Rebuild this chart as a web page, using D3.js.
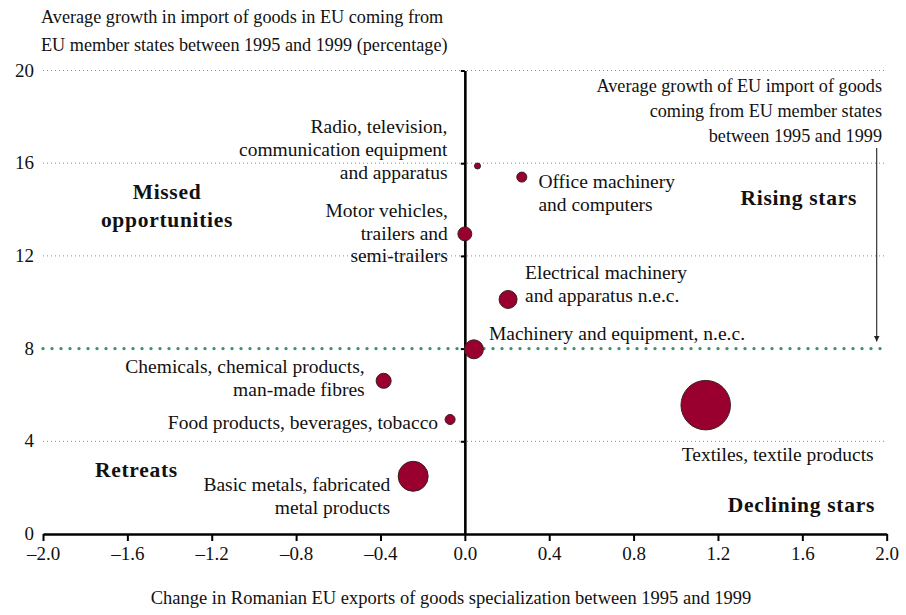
<!DOCTYPE html>
<html>
<head>
<meta charset="utf-8">
<script src="https://cdn.jsdelivr.net/npm/d3@7"></script>
<style>
  html, body { margin: 0; padding: 0; background: #fff; }
  svg { display: block; font-family: "Liberation Serif", "Times New Roman", serif; }
</style>
</head>
<body>
<svg id="chart" width="906" height="615"></svg>
<script>
// ---- Data ----
const sectors = [
  "Radio, television, communication equipment and apparatus",
  "Office machinery and computers",
  "Motor vehicles, trailers and semi-trailers",
  "Electrical machinery and apparatus n.e.c.",
  "Machinery and equipment, n.e.c.",
  "Chemicals, chemical products, man-made fibres",
  "Food products, beverages, tobacco",
  "Basic metals, fabricated metal products",
  "Textiles, textile products"
];
const specializationChange = [0.06, 0.27, 0.0, 0.205, 0.043, -0.385, -0.07, -0.245, 1.142];
const importGrowth = [15.88, 15.4, 12.95, 10.12, 7.97, 6.61, 4.94, 2.49, 5.56];
const bubbleSize = [1, 2.8, 5.4, 9, 10, 6.3, 2.8, 25, 68];
const labelLines = [
  ["Radio, television,", "communication equipment", "and apparatus"],
  ["Office machinery", "and computers"],
  ["Motor vehicles,", "trailers and", "semi-trailers"],
  ["Electrical machinery", "and apparatus n.e.c."],
  ["Machinery and equipment, n.e.c."],
  ["Chemicals, chemical products,", "man-made fibres"],
  ["Food products, beverages, tobacco"],
  ["Basic metals, fabricated", "metal products"],
  ["Textiles, textile products"]
];
const xTicks = [-2.0, -1.6, -1.2, -0.8, -0.4, 0.0, 0.4, 0.8, 1.2, 1.6, 2.0];
const xTickLabels = ["\u20132.0", "\u20131.6", "\u20131.2", "\u20130.8", "\u20130.4", "0.0", "0.4", "0.8", "1.2", "1.6", "2.0"];
const yTicks = [0, 4, 8, 12, 16, 20];
const yTickLabels = ["0", "4", "8", "12", "16", "20"];
const euAverageGrowth = 8;

// ---- Layout ----
const svg = d3.select("#chart");
const x = d3.scaleLinear().domain([-2, 2]).range([43, 886.7]);
const y = d3.scaleLinear().domain([0, 20]).range([534, 70.5]);
const r = d3.scaleSqrt().domain([0, 100]).range([0, 30]);
const FS_TICK = 19;
const FS_LABEL = 19.5;
const FS_ANN = 18.2;
const FS_TITLE = 18.2;
const FS_XTITLE = 18.5;
const FS_QUAD = 21.5;
const LH = 22.8;

// label offsets relative to bubble centre (layout, not data)
const labelLayout = [
  { dx: -30, dy: -33, anchor: "end" },
  { dx: 16.6, dy: 11, anchor: "start" },
  { dx: -17, dy: -17, anchor: "end" },
  { dx: 17, dy: -20, anchor: "start" },
  { dx: 15, dy: -9, anchor: "start" },
  { dx: -19, dy: -8, anchor: "end" },
  { dx: -12, dy: 9.5, anchor: "end" },
  { dx: -23, dy: 14.5, anchor: "end" },
  { dx: -24, dy: 56, anchor: "start" }
];

// grid lines (dotted)
svg.append("g").selectAll("line")
  .data(yTicks.filter(d => d !== 0 && d !== euAverageGrowth))
  .join("line")
  .attr("x1", x(-2)).attr("x2", x(2))
  .attr("y1", d => y(d)).attr("y2", d => y(d))
  .attr("stroke", "#8a8a8a").attr("stroke-width", 1)
  .attr("stroke-dasharray", "1,3");

// EU average line (green dotted)
svg.append("line")
  .attr("x1", x(-2)).attr("x2", x(2))
  .attr("y1", y(euAverageGrowth)).attr("y2", y(euAverageGrowth))
  .attr("stroke", "#3f8f70").attr("stroke-width", 3.4)
  .attr("stroke-linecap", "round")
  .attr("stroke-dasharray", "0,9");

// x axis
const xAxis = d3.axisBottom(x).tickValues(xTicks)
  .tickFormat((d, i) => xTickLabels[i]).tickSizeInner(7).tickSizeOuter(0).tickPadding(6);
const gx = svg.append("g").attr("transform", `translate(0,${y(0)})`).call(xAxis);
gx.select(".domain").attr("stroke", "#000").attr("stroke-width", 2.6);
gx.selectAll(".tick line").attr("stroke", "#000").attr("stroke-width", 2);
gx.selectAll(".tick text").attr("font-size", FS_TICK).attr("font-family", "Liberation Serif").attr("fill", "#111");

// y axis at x = 0
const yAxis = d3.axisLeft(y).tickValues(yTicks.filter(d => d !== 0))
  .tickFormat("").tickSizeInner(4).tickSizeOuter(0);
const gy = svg.append("g").attr("transform", `translate(${x(0)},0)`).call(yAxis);
gy.select(".domain").attr("stroke", "#000").attr("stroke-width", 2.6);
gy.selectAll(".tick line").attr("stroke", "#000").attr("stroke-width", 2);

// y tick labels at left
svg.append("g").selectAll("text")
  .data(yTicks)
  .join("text")
  .attr("x", 34).attr("y", d => y(d)).attr("dy", "0.32em")
  .attr("text-anchor", "end").attr("font-size", FS_TICK).attr("fill", "#111")
  .text((d, i) => yTickLabels[i]);

// axis titles
const yTitle = svg.append("text").attr("font-size", FS_TITLE).attr("fill", "#111");
yTitle.append("tspan").attr("x", 41).attr("y", 23).text("Average growth in import of goods in EU coming from");
yTitle.append("tspan").attr("x", 41).attr("y", 51).text("EU member states between 1995 and 1999 (percentage)");

svg.append("text").attr("x", 451).attr("y", 604)
  .attr("text-anchor", "middle").attr("font-size", FS_XTITLE).attr("fill", "#111")
  .text("Change in Romanian EU exports of goods specialization between 1995 and 1999");

// annotation of EU average line
const ann = svg.append("text").attr("text-anchor", "end").attr("font-size", FS_ANN).attr("fill", "#111");
["Average growth of EU import of goods", "coming from EU member states", "between 1995 and 1999"]
  .forEach((t, i) => ann.append("tspan").attr("x", 882).attr("y", 92 + i * 25).text(t));

svg.append("defs").append("marker")
  .attr("id", "arrow").attr("viewBox", "0 0 10 10")
  .attr("refX", 10).attr("refY", 5)
  .attr("markerWidth", 6).attr("markerHeight", 8)
  .attr("markerUnits", "userSpaceOnUse")
  .attr("orient", "auto")
  .append("path").attr("d", "M0,0 L10,5 L0,10 z").attr("fill", "#222");
svg.append("line")
  .attr("x1", 876.7).attr("x2", 876.7)
  .attr("y1", 148).attr("y2", y(euAverageGrowth) - 7)
  .attr("stroke", "#222").attr("stroke-width", 1.1)
  .attr("marker-end", "url(#arrow)");

// quadrant labels
const quad = [
  { lines: ["Missed", "opportunities"], x: 167, y: 199, anchor: "middle" },
  { lines: ["Rising stars"], x: 857, y: 205, anchor: "end" },
  { lines: ["Retreats"], x: 95, y: 477, anchor: "start" },
  { lines: ["Declining stars"], x: 875, y: 512, anchor: "end" }
];
quad.forEach(q => {
  const t = svg.append("text").attr("text-anchor", q.anchor)
    .attr("font-size", FS_QUAD).attr("font-weight", "bold")
    .attr("letter-spacing", 0.7).attr("fill", "#111");
  q.lines.forEach((l, i) => t.append("tspan").attr("x", q.x).attr("y", q.y + i * 28).text(l));
});

// bubbles
const pts = sectors.map((s, i) => ({
  name: s, xv: specializationChange[i], yv: importGrowth[i], size: bubbleSize[i],
  lines: labelLines[i], lay: labelLayout[i]
}));

svg.append("g").selectAll("circle")
  .data(pts)
  .join("circle")
  .attr("cx", d => x(d.xv)).attr("cy", d => y(d.yv)).attr("r", d => r(d.size))
  .attr("fill", "#990030").attr("stroke", "#3a1f1f").attr("stroke-width", 1);

// point labels
const lg = svg.append("g");
pts.forEach(d => {
  const t = lg.append("text").attr("text-anchor", d.lay.anchor)
    .attr("font-size", FS_LABEL).attr("fill", "#111");
  d.lines.forEach((l, i) => t.append("tspan")
    .attr("x", x(d.xv) + d.lay.dx)
    .attr("y", y(d.yv) + d.lay.dy + i * LH)
    .text(l));
});
</script>
</body>
</html>
